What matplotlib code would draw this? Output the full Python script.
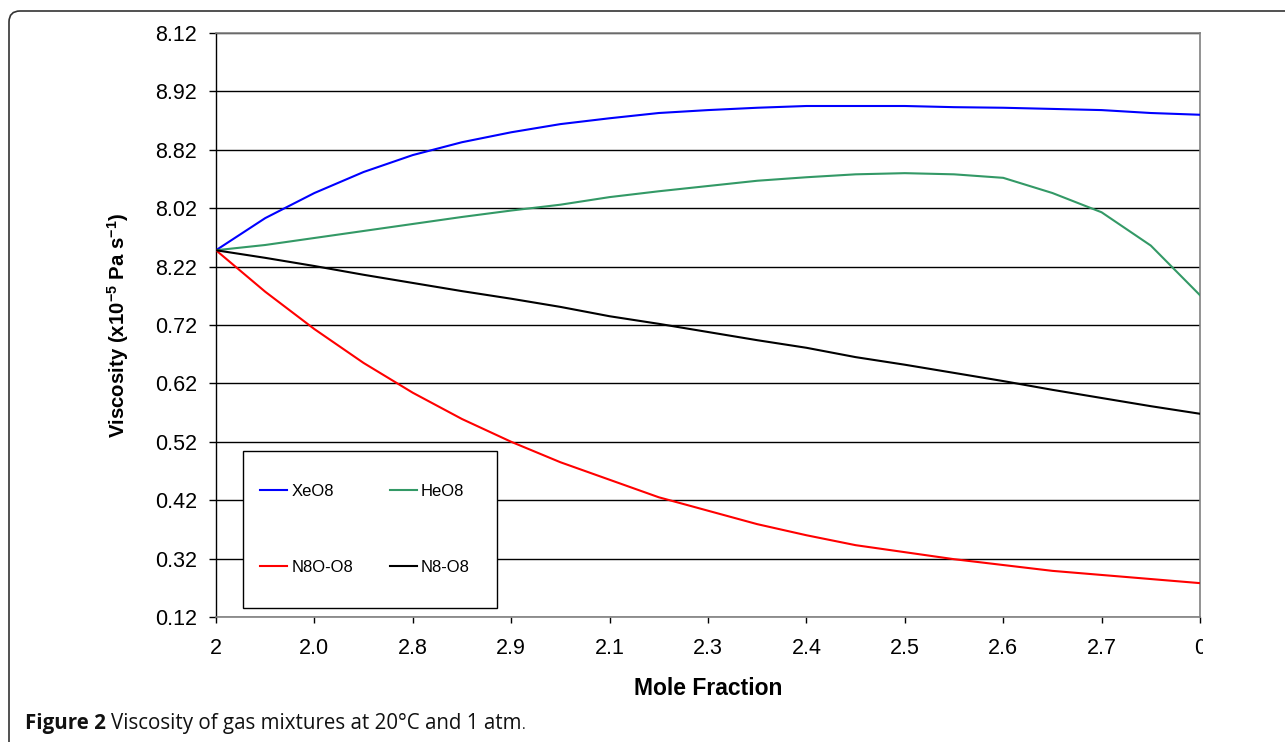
import matplotlib
matplotlib.use("Agg")
import matplotlib.pyplot as plt
from matplotlib.patches import FancyBboxPatch, Rectangle
from matplotlib.transforms import IdentityTransform, Bbox, TransformedBbox

plt.rcParams['font.family'] = ['Liberation Sans', 'DejaVu Sans']
plt.rcParams['mathtext.fontset'] = 'custom'
plt.rcParams['mathtext.bf'] = 'Liberation Sans:bold'
plt.rcParams['mathtext.rm'] = 'Liberation Sans:bold'

# ---- data ----
mole_fraction = [0.00, 0.05, 0.10, 0.15, 0.20, 0.25, 0.30, 0.35, 0.40, 0.45, 0.50,
                 0.55, 0.60, 0.65, 0.70, 0.75, 0.80, 0.85, 0.90, 0.95, 1.00]
xeo2 = [1.828, 1.883, 1.926, 1.962, 1.991, 2.013, 2.030, 2.044, 2.054, 2.063, 2.068,
        2.072, 2.075, 2.075, 2.075, 2.073, 2.072, 2.070, 2.068, 2.063, 2.060]
heo2 = [1.828, 1.837, 1.849, 1.861, 1.873, 1.885, 1.896, 1.906, 1.919, 1.929, 1.938,
        1.947, 1.953, 1.958, 1.960, 1.958, 1.952, 1.926, 1.893, 1.836, 1.751]
n2oo2 = [1.828, 1.757, 1.693, 1.635, 1.584, 1.539, 1.500, 1.465, 1.435, 1.405, 1.382,
         1.359, 1.340, 1.323, 1.311, 1.299, 1.289, 1.279, 1.272, 1.265, 1.258]
n2o2 = [1.828, 1.815, 1.801, 1.786, 1.772, 1.758, 1.745, 1.731, 1.715, 1.702, 1.688,
        1.674, 1.661, 1.645, 1.632, 1.618, 1.604, 1.589, 1.575, 1.561, 1.548]
series_names = ['XeO8', 'HeO8', 'N8O-O8', 'N8-O8']
series_colors = ['#0000FF', '#339966', '#FF0000', '#000000']

x_ticks = [0.0, 0.1, 0.2, 0.3, 0.4, 0.5, 0.6, 0.7, 0.8, 0.9, 1.0]
x_ticklabels = ['2', '2.0', '2.8', '2.9', '2.1', '2.3', '2.4', '2.5', '2.6', '2.7', '0']
y_ticks = [1.2, 1.3, 1.4, 1.5, 1.6, 1.7, 1.8, 1.9, 2.0, 2.1, 2.2]
y_ticklabels = ['0.12', '0.32', '0.42', '0.52', '0.62', '0.72', '8.22', '8.02', '8.82', '8.92', '8.12']

W, H = 1285, 742
fig = plt.figure(figsize=(W / 100, H / 100), dpi=100)
fig.patch.set_facecolor('white')

# outer rounded frame
frame = FancyBboxPatch((9, -40), 1320, 742 - 11 + 40,
                       boxstyle="round,pad=0,rounding_size=11",
                       transform=IdentityTransform(), fill=False,
                       edgecolor='#333333', linewidth=1.2, clip_on=False)
fig.patches.append(frame)

ax = fig.add_axes([216 / W, 1 - 617 / H, (1200 - 216) / W, (617 - 33) / H])

lines = {}
for ys, name, col in zip([xeo2, heo2, n2oo2, n2o2], series_names, series_colors):
    lines[name], = ax.plot(mole_fraction, ys, color=col, lw=1.5, label=name, zorder=3)

ax.set_xlim(0, 1)
ax.set_ylim(1.2, 2.2)
ax.set_xticks(x_ticks)
ax.set_xticklabels(x_ticklabels)
ax.set_yticks(y_ticks)
ax.set_yticklabels(y_ticklabels)
ax.tick_params(axis='both', direction='out', width=1, color='black',
               labelsize=15.5, labelcolor='black')
ax.tick_params(axis='y', length=5, pad=8.6)
ax.tick_params(axis='x', length=4, pad=11)
ax.grid(axis='y', color='black', lw=1)
ax.set_axisbelow(True)
for s in ['top', 'right', 'bottom']:
    ax.spines[s].set_color('#808080')
    ax.spines[s].set_linewidth(1.2)
ax.spines['left'].set_color('black')
ax.spines['left'].set_linewidth(1)

ax.set_xlabel('Mole Fraction', fontsize=16.5, fontweight='bold')
ax.xaxis.set_label_coords(0.5, (617 - 677) / 584)
ax.set_ylabel(r'Viscosity (x10$^{-5}$ Pa s$^{-1}$)', fontsize=14.7, fontweight='bold')
ax.yaxis.set_label_coords((131 - 216) / 984, 0.5)

# clip last x tick label like the reference
labels = ax.get_xticklabels()
clipbox = TransformedBbox(Bbox([[0, 0], [1203 / W, 1]]), fig.transFigure)
labels[-1].set_clip_box(clipbox)
labels[-1].set_clip_on(True)

# legend box
box = Rectangle(((243 - 216) / 984, (617 - 608) / 584), 254 / 984, 157 / 584,
                transform=ax.transAxes, facecolor='white', edgecolor='black',
                lw=1, zorder=4)
ax.add_patch(box)
order = ['XeO8', 'N8O-O8', 'HeO8', 'N8-O8']
leg = ax.legend([lines[n] for n in order], order,
                loc='center', bbox_to_anchor=((365 - 216) / 984, (617 - 529.5) / 584),
                ncol=2, frameon=False, fontsize=12, handlelength=1.62,
                handletextpad=0.24, columnspacing=2.2, labelspacing=3.65)
leg.set_zorder(5)

# caption
fig.canvas.draw()
r = fig.canvas.get_renderer()
cap_y = 1 - 729 / H
cap_font = ['Open Sans', 'DejaVu Sans']
t1 = fig.text(25 / W, cap_y, 'Figure 2', fontsize=14.8, fontweight='bold',
              family=cap_font, va='baseline', color='#111111')
bb = t1.get_window_extent(renderer=r)
t2 = fig.text((bb.x1 + 5) / W, cap_y, 'Viscosity of gas mixtures at 20°C and 1 atm', fontsize=14.8,
              family=cap_font, va='baseline', color='#111111')
bb2 = t2.get_window_extent(renderer=r)
fig.text((bb2.x1 + 1) / W, cap_y, '.', fontsize=10,
         family=cap_font, va='baseline', color='#111111')

fig.savefig('out.png', dpi=100)
